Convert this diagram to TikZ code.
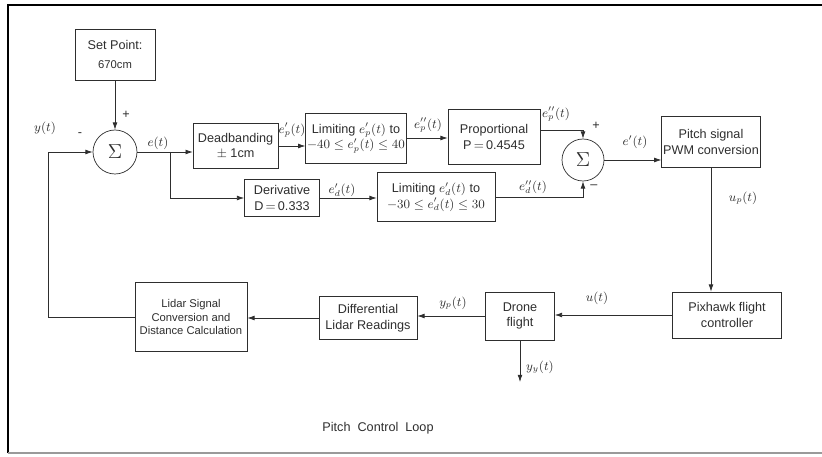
\documentclass[tikz,border=0pt]{standalone}
\usepackage{fontspec}
\setmainfont{Liberation Sans}
\usepackage{xcolor}
\definecolor{Ink}{HTML}{2E2E2E}
\definecolor{FrameGray}{HTML}{9A9A9A}
\usepackage{tikz}
\usetikzlibrary{positioning,calc,arrows.meta}
\tikzset{
  blk/.style={draw=Ink,line width=0.5pt,align=center,font=\small,text=Ink,
    inner sep=1pt},
  sumc/.style={draw=Ink,line width=0.5pt,circle,minimum size=#1,inner sep=0pt,
    font=\Large,text=Ink},
  sig/.style={-{Latex[length=1.8mm,width=1.2mm]},draw=Ink,line width=0.5pt},
  wire/.style={draw=Ink,line width=0.5pt},
  lbl/.style={font=\small,text=Ink,inner sep=1pt},
}

\begin{document}
\begin{tikzpicture}[x=1cm,y=1cm]
\useasboundingbox (0,0) rectangle (20.55,11.4);
% frame
\draw[black,line width=1.4pt] (0.2,0.075) -- (0.2,11.275) -- (20.55,11.275);
\draw[FrameGray,line width=0.8pt] (0.2,0.075) -- (20.55,0.075);

% forward path
\node[blk,minimum width=2.0cm,minimum height=1.275cm] (setp) at (2.875,10.04)
  {Set Point:\\[2pt]{\footnotesize 670cm}};
\node[sumc=1.1cm] (sum1) at (2.875,7.6) {$\Sigma$};
\node[blk,minimum width=2.125cm,minimum height=1.125cm] (dead) at (5.89,7.75)
  {Deadbanding\\ $\pm$ 1cm};
\node[blk,minimum width=2.45cm,minimum height=1.25cm] (lim1) at (8.9,7.95)
  {Limiting $e_p'(t)$ to\\ $-40\le e_p'(t)\le 40$};
\node[blk,minimum width=2.3cm,minimum height=1.375cm] (prop) at (12.35,7.975)
  {Proportional\\ P$\,=\,$0.4545};
\node[sumc=1.05cm] (sum2) at (14.575,7.4) {$\Sigma$};
\node[blk,minimum width=2.45cm,minimum height=1.275cm] (pitch) at (17.775,7.85)
  {Pitch signal\\ PWM conversion};
\node[blk,minimum width=1.875cm,minimum height=0.925cm] (deriv) at (7.05,6.45)
  {Derivative\\ D$\,=\,$0.333};
\node[blk,minimum width=2.95cm,minimum height=1.225cm] (lim2) at (10.9,6.475)
  {Limiting $e_d'(t)$ to\\ $-30\le e_d'(t)\le 30$};

% plant and feedback
\node[blk,minimum width=2.725cm,minimum height=1.15cm] (pix) at (18.175,3.525)
  {Pixhawk flight\\ controller};
\node[blk,minimum width=1.725cm,minimum height=1.2cm] (drone) at (13.0,3.5)
  {Drone\\ flight};
\node[blk,minimum width=2.45cm,minimum height=1.075cm] (diff) at (9.2,3.45)
  {Differential\\ Lidar Readings};
\node[blk,minimum width=2.8cm,minimum height=1.725cm,font=\footnotesize] (lidar)
  at (4.775,3.475) {Lidar Signal\\ Conversion and\\ Distance Calculation};

\coordinate (fb) at (1.2,3.475);
\coordinate (br) at (4.25,7.6);
\coordinate (yout) at (13.0,1.85);

% connectors
\draw[sig] (setp.south) -- (sum1.north);
\draw[sig] (sum1.east) -- (sum1.east -| dead.west);
\draw[sig] (br) |- (deriv.west);
\draw[sig] (dead.east) -- (dead.east -| lim1.west);
\draw[sig] (lim1.east) -- (lim1.east -| prop.west);
\draw[sig] ([yshift=0.175cm]prop.east) -| (sum2.north);
\draw[sig] (deriv.east) -- (deriv.east -| lim2.west);
\draw[sig] (lim2.east) -| (sum2.south);
\draw[sig] (sum2.east) -- (sum2.east -| pitch.west);
\draw[sig] (pitch.south) -- (pitch.south |- pix.north);
\draw[sig] (pix.west) -- (pix.west -| drone.east);
\draw[sig] (drone.west) -- (drone.west -| diff.east);
\draw[sig] (drone.south) -- (yout);
\draw[sig] (diff.west) -- (diff.west -| lidar.east);
\draw[wire] (lidar.west) -- (fb);
\draw[sig] (fb) |- (sum1.west);

% signal labels
\node[lbl] at (3.15,8.525) {+};
\node[lbl] at (2.0,8.025) {-};
\node[lbl] at (1.125,8.2) {$y(t)$};
\node[lbl] at (3.95,7.825) {$e(t)$};
\node[lbl] at (7.3,8.15) {$e_p'(t)$};
\node[lbl] at (10.7,8.275) {$e_p''(t)$};
\node[lbl] at (8.55,6.65) {$e_d'(t)$};
\node[lbl] at (13.9,8.55) {$e_p''(t)$};
\node[lbl] at (14.9,8.25) {+};
\node[lbl] at (13.325,6.725) {$e_d''(t)$};
\node[lbl] at (14.85,6.725) {--};
\node[lbl] at (15.875,7.85) {$e'(t)$};
\node[lbl] at (18.575,6.45) {$u_p(t)$};
\node[lbl] at (14.925,3.95) {$u(t)$};
\node[lbl] at (11.325,3.825) {$y_p(t)$};
\node[lbl] at (13.5,2.225) {$y_y(t)$};

% caption
\node[lbl] (cap) at (9.45,0.7) {Pitch \ Control \ Loop};
\end{tikzpicture}
\end{document}
